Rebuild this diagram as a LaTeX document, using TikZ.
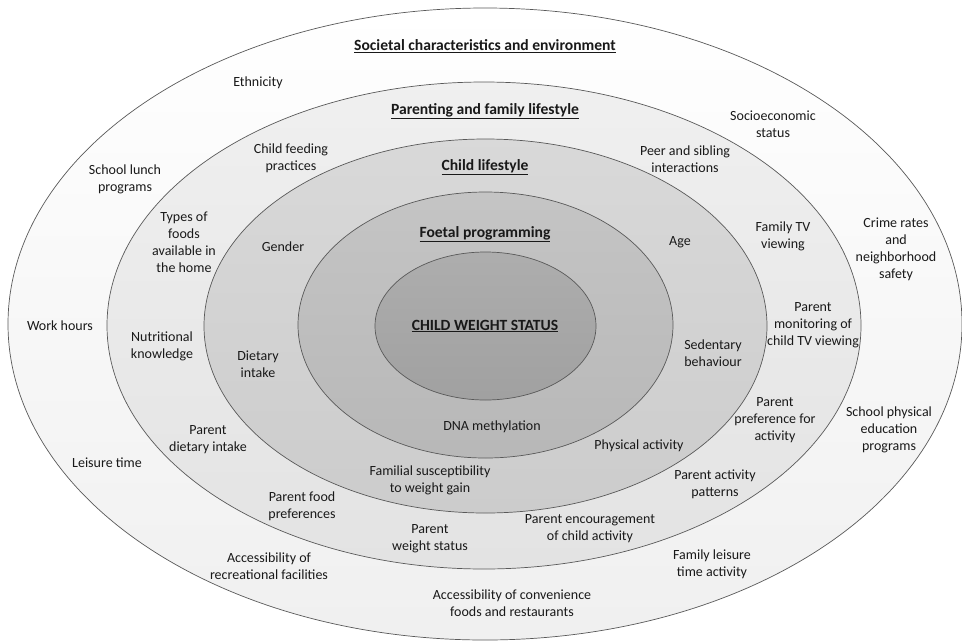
\documentclass[tikz,border=0pt]{standalone}
\usepackage{fontspec}
\setmainfont{Carlito}
\begin{document}
\begin{tikzpicture}[x=1pt,y=-1pt,
  ring/.style={draw=black!65, line width=0.7pt},
  lbl/.style={align=center, inner sep=0pt, text=black!90, font=\fontsize{14}{17}\selectfont},
  ttl/.style={align=center, inner sep=0pt, text=black!90, font=\fontsize{15.6}{18}\selectfont\bfseries}]
\useasboundingbox (0,0) rectangle (962,641);
\fill[white] (0,0) rectangle (962,641);
% rings
\path[ring, top color=white, bottom color=black!6] (485,324) ellipse [x radius=477pt, y radius=316pt];
\path[ring, top color=black!6, bottom color=black!11] (484,325.5) ellipse [x radius=377pt, y radius=243.5pt];
\path[ring, top color=black!15, bottom color=black!20] (485.5,326) ellipse [x radius=281.5pt, y radius=187pt];
\path[ring, top color=black!23, bottom color=black!28] (485.5,325) ellipse [x radius=187.5pt, y radius=133pt];
\path[ring, top color=black!32, bottom color=black!37] (485.5,326) ellipse [x radius=110.5pt, y radius=74pt];
% titles
\node[ttl] (t1) at (485,46) {\underline{Societal characteristics and environment}};
\node[ttl] (t2) at (485,111) {\underline{Parenting and family lifestyle}};
\node[ttl] (t3) at (485,167) {\underline{Child lifestyle}};
\node[ttl] (t4) at (485,234) {\underline{Foetal programming}};
\node[ttl] (t5) at (485,326) {\underline{CHILD WEIGHT STATUS}};
% outer ring
\node[lbl] (eth) at (258,83) {Ethnicity};
\node[lbl] (ses) at (773,124) {Socioeconomic\\status};
\node[lbl] (slp) at (125,179) {School lunch\\programs};
\node[lbl] (crime) at (896,249.5) {Crime rates\\and\\neighborhood\\safety};
\node[lbl] (work) at (60,326) {Work hours};
\node[lbl] (spe) at (889,430) {School physical\\education\\programs};
\node[lbl] (leis) at (107,463) {Leisure time};
\node[lbl] (arf) at (269,566) {Accessibility of\\recreational facilities};
\node[lbl] (flt) at (712,564) {Family leisure\\time activity};
\node[lbl] (acf) at (512,603) {Accessibility of convenience\\foods and restaurants};
% parenting ring
\node[lbl] (cfp) at (291,158) {Child feeding\\practices};
\node[lbl] (psi) at (685,159) {Peer and sibling\\interactions};
\node[lbl] (tfa) at (184,242) {Types of\\foods\\available in\\the home};
\node[lbl] (ftv) at (783,236) {Family TV\\viewing};
\node[lbl] (pmc) at (813,325) {Parent\\monitoring of\\child TV viewing};
\node[lbl] (nk) at (162,346) {Nutritional\\knowledge};
\node[lbl] (ppa) at (775,420) {Parent\\preference for\\activity};
\node[lbl] (pdi) at (208,440) {Parent\\dietary intake};
\node[lbl] (pap) at (715,484) {Parent activity\\patterns};
\node[lbl] (pfp) at (302,506) {Parent food\\preferences};
\node[lbl] (pws) at (430,539) {Parent\\weight status};
\node[lbl] (pec) at (590,529) {Parent encouragement\\of child activity};
% child lifestyle ring
\node[lbl] (gen) at (283,247) {Gender};
\node[lbl] (age) at (680,242) {Age};
\node[lbl] (di) at (258,364) {Dietary\\intake};
\node[lbl] (sb) at (713,353) {Sedentary\\behaviour};
\node[lbl] (pa) at (639,446) {Physical activity};
\node[lbl] (fsw) at (430,480) {Familial susceptibility\\to weight gain};
% foetal ring
\node[lbl] (dna) at (492,427) {DNA methylation};
\end{tikzpicture}
\end{document}
